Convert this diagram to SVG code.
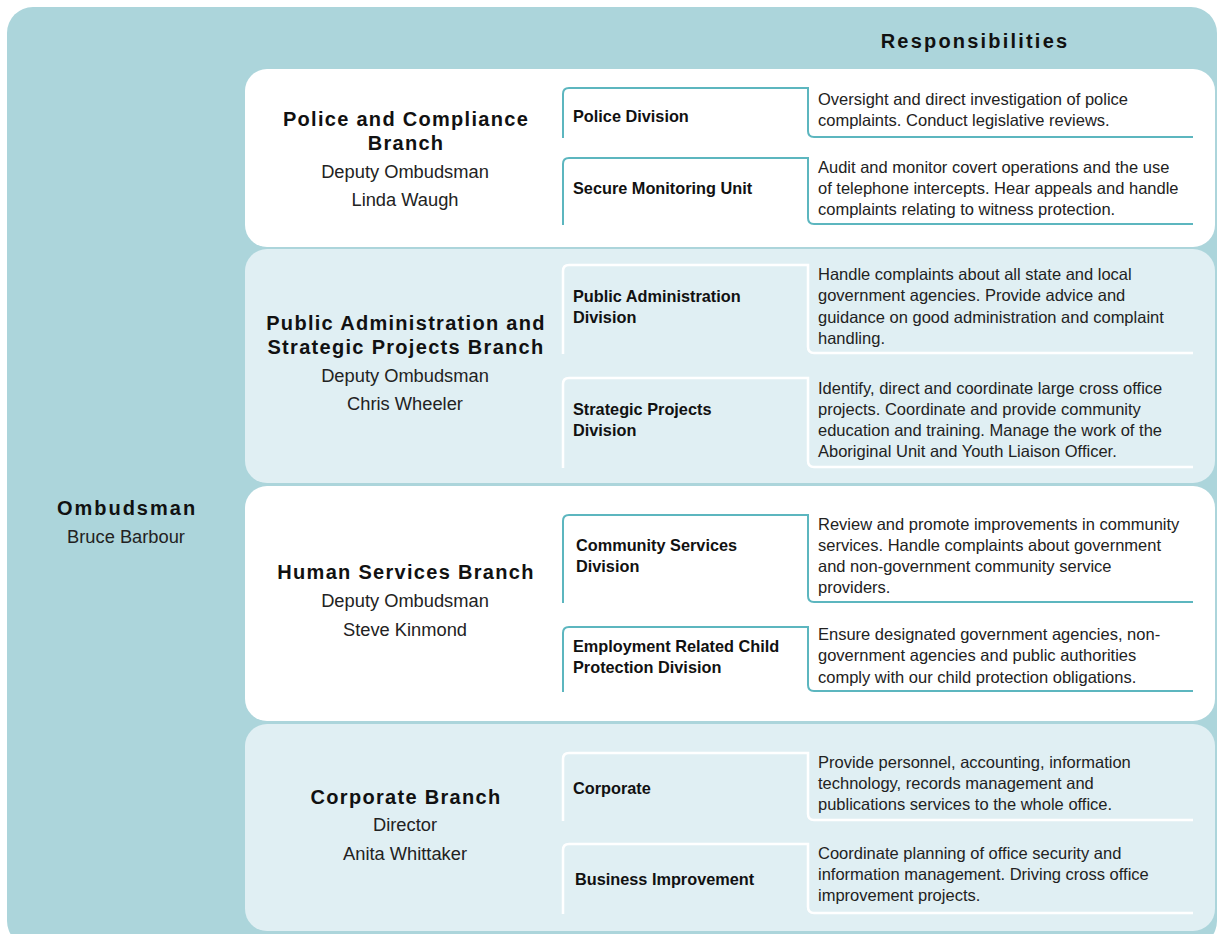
<svg xmlns="http://www.w3.org/2000/svg" width="1218" height="934" viewBox="0 0 1218 934">
<style>
.bt{font-family:"Liberation Sans",Arial,sans-serif;font-weight:bold;font-size:20px;letter-spacing:1.3px;fill:#111;text-anchor:middle}
.bs{font-family:"Liberation Sans",Arial,sans-serif;font-size:18.3px;fill:#222;text-anchor:middle}
.dl{font-family:"Liberation Sans",Arial,sans-serif;font-weight:bold;font-size:16.3px;fill:#111}
.ds{font-family:"Liberation Sans",Arial,sans-serif;font-size:16.5px;fill:#222}
.lt{fill:none;stroke:#5cb6bf;stroke-width:2}
.lw{fill:none;stroke:#ffffff;stroke-width:2.5}
</style>
<rect x="0" y="0" width="1218" height="934" fill="#ffffff"/>
<rect x="7" y="7" width="1210" height="940" rx="26" fill="#acd5db"/>
<text x="975" y="48" style="font-family:'Liberation Sans',Arial,sans-serif;font-weight:bold;font-size:20px;letter-spacing:2.2px;fill:#111" text-anchor="middle">Responsibilities</text>
<g id="ombudsman">
<text x="127" y="515" class="bt" style="letter-spacing:2px">Ombudsman</text>
<text x="126" y="543" class="bs">Bruce Barbour</text>
</g>
<g id="branch-police">
<rect x="245" y="69" width="970" height="178" rx="22" fill="#ffffff"/>
<text x="406" y="126" class="bt">Police and Compliance</text>
<text x="406" y="150" class="bt">Branch</text>
<text x="405" y="178" class="bs">Deputy Ombudsman</text>
<text x="405" y="206" class="bs">Linda Waugh</text>
</g>
<g id="branch-public">
<rect x="245" y="249" width="970" height="234" rx="22" fill="#e0eff3"/>
<text x="406" y="330" class="bt">Public Administration and</text>
<text x="406" y="354" class="bt">Strategic Projects Branch</text>
<text x="405" y="382" class="bs">Deputy Ombudsman</text>
<text x="405" y="410" class="bs">Chris Wheeler</text>
</g>
<g id="branch-human">
<rect x="245" y="486" width="970" height="235" rx="22" fill="#ffffff"/>
<text x="406" y="579" class="bt">Human Services Branch</text>
<text x="405" y="607" class="bs">Deputy Ombudsman</text>
<text x="405" y="636" class="bs">Steve Kinmond</text>
</g>
<g id="branch-corporate">
<rect x="245" y="724" width="970" height="207" rx="22" fill="#e0eff3"/>
<text x="406" y="804" class="bt">Corporate Branch</text>
<text x="405" y="831" class="bs">Director</text>
<text x="405" y="860" class="bs">Anita Whittaker</text>
</g>
<g id="connectors">
<path class="lt" d="M563,138 V94 Q563,88 569,88 H808 V131 Q808,137 814,137 H1193"/>
<path class="lt" d="M563,225 V164 Q563,158 569,158 H808 V218 Q808,224 814,224 H1193"/>
<path class="lw" d="M563,354 V271 Q563,265 569,265 H808 V347 Q808,353 814,353 H1193"/>
<path class="lw" d="M563,468 V384 Q563,378 569,378 H808 V461 Q808,467 814,467 H1193"/>
<path class="lt" d="M563,603 V521 Q563,515 569,515 H808 V596 Q808,602 814,602 H1193"/>
<path class="lt" d="M563,692 V633 Q563,627 569,627 H808 V685 Q808,691 814,691 H1193"/>
<path class="lw" d="M563,821 V759 Q563,753 569,753 H808 V814 Q808,820 814,820 H1193"/>
<path class="lw" d="M563,914 V850 Q563,844 569,844 H808 V907 Q808,913 814,913 H1193"/>
</g>
<g id="div-police">
<text x="573" y="122" class="dl">Police Division</text>
<text x="818" y="105" class="ds">Oversight and direct investigation of police</text>
<text x="818" y="126" class="ds">complaints. Conduct legislative reviews.</text>
</g>
<g id="div-secure">
<text x="573" y="194" class="dl">Secure Monitoring Unit</text>
<text x="818" y="173" class="ds">Audit and monitor covert operations and the use</text>
<text x="818" y="194" class="ds">of telephone intercepts. Hear appeals and handle</text>
<text x="818" y="215" class="ds">complaints relating to witness protection.</text>
</g>
<g id="div-public">
<text x="573" y="302" class="dl">Public Administration</text>
<text x="573" y="323" class="dl">Division</text>
<text x="818" y="280" class="ds">Handle complaints about all state and local</text>
<text x="818" y="301" class="ds">government agencies. Provide advice and</text>
<text x="818" y="323" class="ds">guidance on good administration and complaint</text>
<text x="818" y="344" class="ds">handling.</text>
</g>
<g id="div-strategic">
<text x="573" y="415" class="dl">Strategic Projects</text>
<text x="573" y="436" class="dl">Division</text>
<text x="818" y="394" class="ds">Identify, direct and coordinate large cross office</text>
<text x="818" y="415" class="ds">projects. Coordinate and provide community</text>
<text x="818" y="436" class="ds">education and training. Manage the work of the</text>
<text x="818" y="457" class="ds">Aboriginal Unit and Youth Liaison Officer.</text>
</g>
<g id="div-community">
<text x="576" y="551" class="dl">Community Services</text>
<text x="576" y="572" class="dl">Division</text>
<text x="818" y="530" class="ds">Review and promote improvements in community</text>
<text x="818" y="551" class="ds">services. Handle complaints about government</text>
<text x="818" y="572" class="ds">and non-government community service</text>
<text x="818" y="593" class="ds">providers.</text>
</g>
<g id="div-employment">
<text x="573" y="652" class="dl">Employment Related Child</text>
<text x="573" y="673" class="dl">Protection Division</text>
<text x="818" y="640" class="ds">Ensure designated government agencies, non-</text>
<text x="818" y="661" class="ds">government agencies and public authorities</text>
<text x="818" y="683" class="ds">comply with our child protection obligations.</text>
</g>
<g id="div-corporate">
<text x="573" y="794" class="dl">Corporate</text>
<text x="818" y="768" class="ds">Provide personnel, accounting, information</text>
<text x="818" y="789" class="ds">technology, records management and</text>
<text x="818" y="810" class="ds">publications services to the whole office.</text>
</g>
<g id="div-business">
<text x="575" y="885" class="dl">Business Improvement</text>
<text x="818" y="859" class="ds">Coordinate planning of office security and</text>
<text x="818" y="880" class="ds">information management. Driving cross office</text>
<text x="818" y="901" class="ds">improvement projects.</text>
</g>
</svg>
